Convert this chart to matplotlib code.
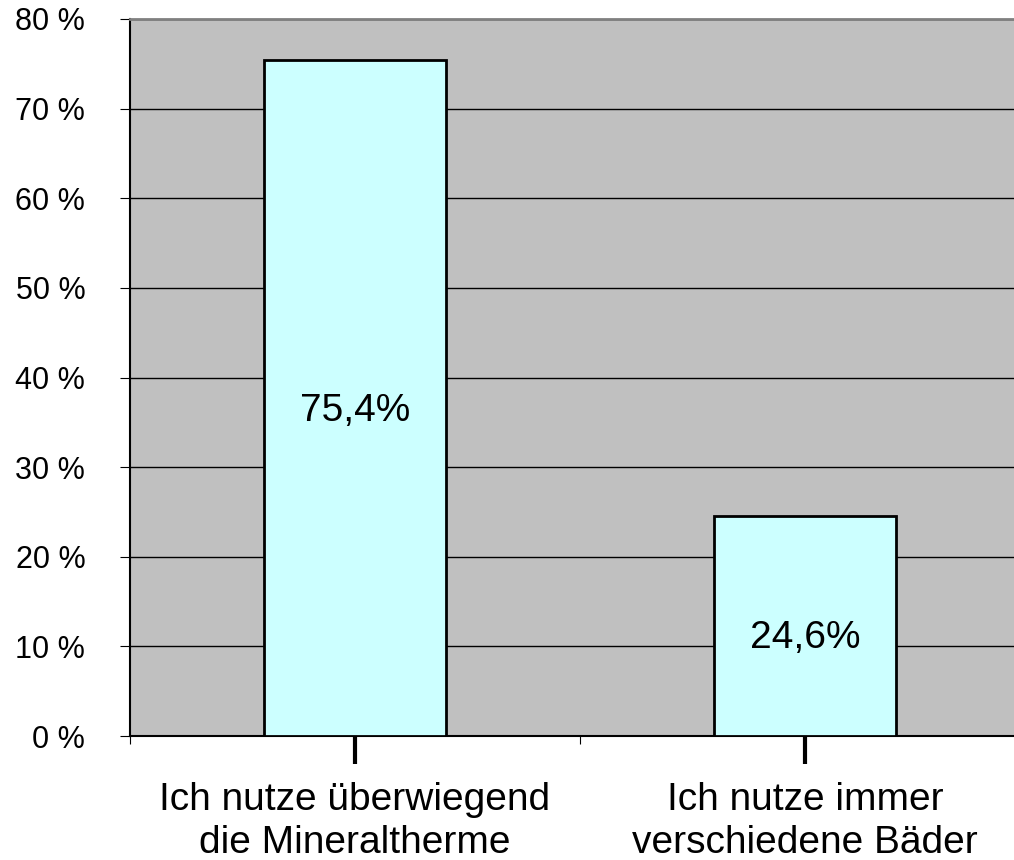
import matplotlib
matplotlib.use("Agg")
import matplotlib.pyplot as plt
import numpy as np

categories = ["Ich nutze überwiegend\ndie Mineraltherme", "Ich nutze immer\nverschiedene Bäder"]
values = [75.4, 24.6]
value_labels = ["75,4%", "24,6%"]
yticks = [0, 10, 20, 30, 40, 50, 60, 70, 80]

plt.rcParams['font.family'] = ['Liberation Sans', 'DejaVu Sans']

fig = plt.figure(figsize=(10.14, 8.6), dpi=100)
ax = fig.add_axes([130/1014, 124/860, 900/1014, 717/860])
ax.set_facecolor('#C0C0C0')

x = np.arange(len(categories))
ax.bar(x, values, width=0.405, color='#CCFFFF', edgecolor='black', linewidth=2, zorder=3)
for xi, v, lab in zip(x, values, value_labels):
    ax.text(xi, v / 2 - 1.4, lab, ha='center', va='center', fontsize=28, zorder=4)

ax.set_ylim(0, 80)
ax.set_xlim(-0.5, 1.5)
ax.set_yticks(yticks)
ax.set_yticklabels([f"{t} %" for t in yticks], fontsize=22)
ax.yaxis.grid(True, color='black', linewidth=1)
ax.set_axisbelow(True)

# category labels with thick ticks at bar centres
ax.set_xticks(x)
ax.set_xticklabels(categories, fontsize=28, linespacing=1.24)
ax.tick_params(axis='x', which='major', length=20, width=3, pad=13)
ax.set_xticks([-0.5, 0.5, 1.5], minor=True)
ax.tick_params(axis='x', which='minor', length=6, width=0.8)
ax.tick_params(axis='y', length=7.2, width=0.8, pad=25)

ax.spines['top'].set_color('#808080')
ax.spines['top'].set_linewidth(2)
ax.spines['right'].set_visible(False)
ax.spines['left'].set_linewidth(1.5)
ax.spines['bottom'].set_linewidth(1.5)

fig.savefig("out.png", dpi=100)
